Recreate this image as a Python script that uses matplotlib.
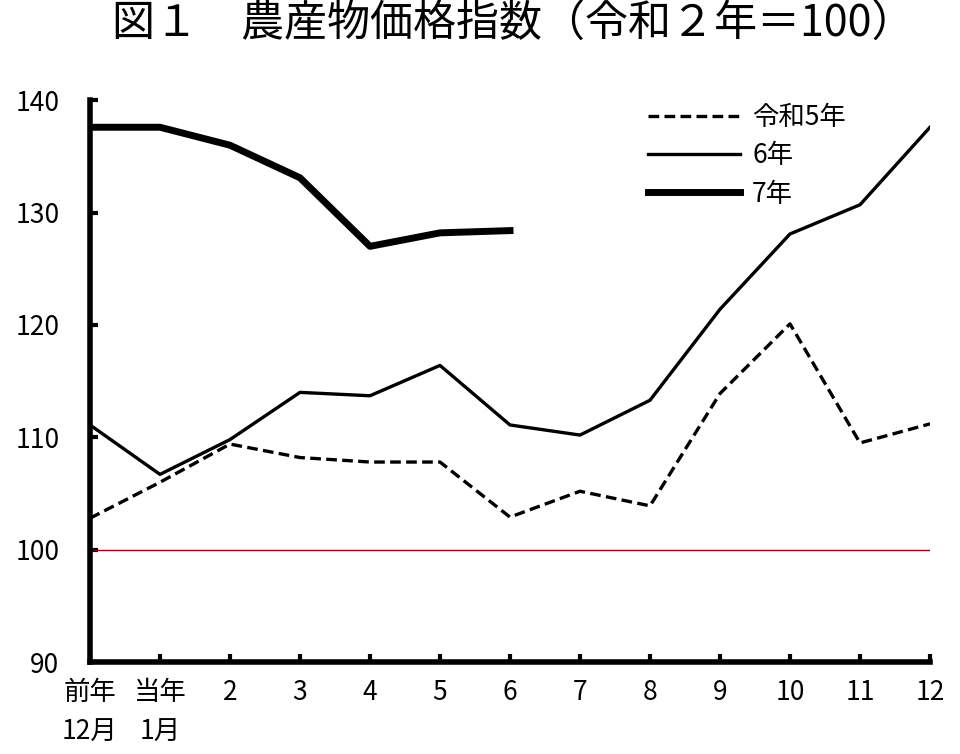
import numpy as np
import matplotlib.pyplot as plt

plt.rcParams['font.family'] = ['Noto Sans CJK JP', 'DejaVu Sans']

months = ['前年\n12月', '当年\n1月', '2', '3', '4', '5', '6', '7', '8', '9', '10', '11', '12']
r5 = [102.8, 106.0, 109.4, 108.2, 107.8, 107.8, 102.9, 105.2, 103.9, 113.9, 120.1, 109.5, 111.2]
r6 = [111.1, 106.7, 109.8, 114.0, 113.7, 116.4, 111.1, 110.2, 113.3, 121.4, 128.1, 130.7, 137.6]
r7 = [137.6, 137.6, 136.0, 133.1, 127.0, 128.2, 128.4]

fig = plt.figure(figsize=(9.6, 7.54), dpi=100)
ax = fig.add_axes([0.09375, 0.122, 0.875, 0.745])

x = np.arange(len(months))
ax.axhline(100, color='#990000', lw=1)
ax.plot(x, r5, color='black', lw=2.4, ls=(0, (3.2, 1.6)), label='令和5年')
ax.plot(x, r6, color='black', lw=2.4, label='6年')
ax.plot(x[:len(r7)], r7, color='black', lw=5, label='7年')

ax.set_xlim(0, 12)
ax.set_ylim(90, 140)
ax.set_yticks(range(90, 141, 10))
ax.set_xticks(x)
ax.set_xticklabels(months, linespacing=1.65)
for s in ['top', 'right']:
    ax.spines[s].set_visible(False)
for s in ['left', 'bottom']:
    ax.spines[s].set_linewidth(4)
ax.tick_params(direction='in', length=6, width=3, labelsize=19)
ax.tick_params(axis='x', pad=12)
ax.tick_params(axis='y', pad=22)

ax.legend(loc='upper left', bbox_to_anchor=(0.636, 1.035), frameon=False, fontsize=19,
          handlelength=3.5, handletextpad=0.45, labelspacing=0.42)

fig.text(0.535, 0.967, '図１　農産物価格指数（令和２年＝100）', ha='center', va='center', fontsize=31)

fig.savefig('out.png', dpi=100)
